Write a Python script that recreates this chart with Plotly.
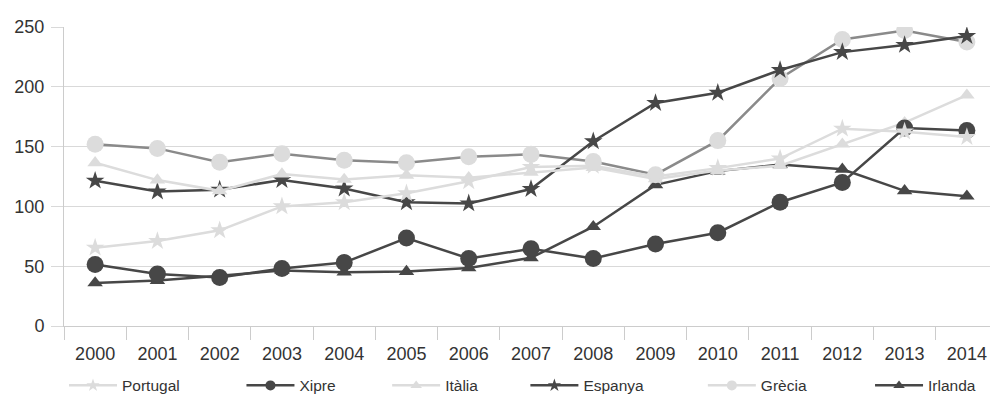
import plotly.graph_objects as go

years = ["2000", "2001", "2002", "2003", "2004", "2005", "2006", "2007",
         "2008", "2009", "2010", "2011", "2012", "2013", "2014"]

portugal = [65.5, 71, 80, 100, 103.5, 111, 121, 133, 134, 125, 132, 140, 165, 162.5, 158]
xipre = [51.5, 43.5, 40.5, 48, 53, 73.5, 56.5, 64.5, 56.5, 68.5, 78, 103.5, 120, 165.5, 163.5]
italia = [136.5, 122, 113, 127, 122.5, 126, 124, 128.5, 132.5, 123, 130, 134, 152, 170, 193]
espanya = [121.5, 112.5, 114, 122, 115, 103.5, 102.5, 114.5, 154.5, 186.5, 195, 214, 229, 235, 242.5]
grecia = [152, 148.5, 137, 144, 138.5, 136.5, 141.5, 143.5, 137.5, 126.5, 155, 207, 239.5, 247, 237.5]
irlanda = [36, 38, 42, 46.5, 45, 45.5, 48.5, 57, 83, 118, 129.5, 135, 131, 113, 108.5]

DARK = "#474747"
LIGHT = "#dcdcdc"
MID = "#8a8a8a"

# name, values, line colour, marker colour, symbol, size, legend line colour
series = [
    ("Irlanda", irlanda, DARK, DARK, "triangle-up", 13.5, DARK),
    ("Grècia", grecia, MID, LIGHT, "circle", 17, LIGHT),
    ("Espanya", espanya, DARK, DARK, "star", 14, DARK),
    ("Itàlia", italia, LIGHT, LIGHT, "triangle-up", 13.5, LIGHT),
    ("Xipre", xipre, DARK, DARK, "circle", 17, DARK),
    ("Portugal", portugal, LIGHT, LIGHT, "star", 14, LIGHT),
]

# legend order and horizontal anchor (paper fraction) of each entry
legend_order = ["Portugal", "Xipre", "Itàlia", "Espanya", "Grècia", "Irlanda"]
legend_x = [0.0, 0.19, 0.346, 0.494, 0.684, 0.863]

fig = go.Figure()
for name, vals, lc, mc, sym, sz, llc in series:
    fig.add_trace(go.Scatter(
        x=years, y=vals, name=name, mode="lines+markers", showlegend=False,
        line=dict(color=lc, width=2.5),
        marker=dict(color=mc, symbol=sym, size=sz, line=dict(width=0)),
    ))

style = {s[0]: s for s in series}
legend_layouts = {}
for i, name in enumerate(legend_order):
    _, _, lc, mc, sym, sz, llc = style[name]
    key = "legend" if i == 0 else f"legend{i + 1}"
    fig.add_trace(go.Scatter(
        x=[None], y=[None], name=name, mode="lines+markers", showlegend=True,
        legend=key,
        line=dict(color=llc, width=2.5),
        marker=dict(color=mc, symbol=sym, size=10, line=dict(width=0)),
    ))
    legend_layouts[key] = dict(
        orientation="h", x=legend_x[i], xanchor="left",
        y=-0.2, yanchor="middle",
        font=dict(size=15.5, color="#333333"),
        itemwidth=48, bgcolor="rgba(0,0,0,0)",
    )

# the page body adds an 8px margin, so the figure is 8px smaller on each side
fig.update_layout(
    width=990, height=401,
    margin=dict(l=56, r=0, t=19, b=83, autoexpand=False),
    paper_bgcolor="white", plot_bgcolor="white",
    font=dict(family="Liberation Sans, Arial, sans-serif", color="#333333", size=16),
    showlegend=True,
    **legend_layouts,
)
fig.update_xaxes(
    type="category", range=[-0.5, 14.5], automargin=False,
    showline=True, linecolor="#cccccc", linewidth=1,
    ticks="outside", tickson="boundaries", ticklen=13, tickcolor="#cccccc",
    showgrid=False, tickfont=dict(size=18, color="#333333"),
    ticklabelstandoff=11,
)
fig.update_yaxes(
    range=[0, 250], tickvals=[0, 50, 100, 150, 200, 250], automargin=False,
    showline=True, linecolor="#cccccc", linewidth=1,
    ticks="outside", ticklen=12, tickcolor="#d9d9d9",
    showgrid=True, gridcolor="#d9d9d9", gridwidth=1,
    zeroline=False,
    tickfont=dict(size=18, color="#333333"),
    ticklabelstandoff=3,
)

fig.write_html("out.html")
